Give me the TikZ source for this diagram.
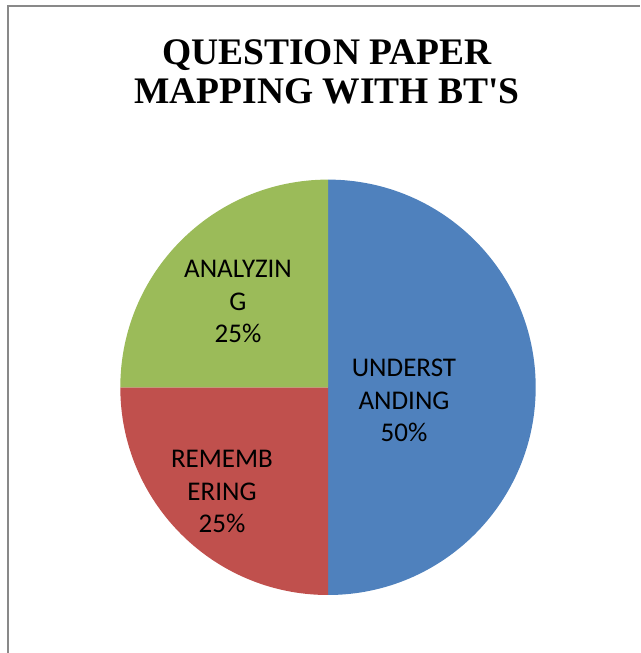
\documentclass[tikz,border=0pt]{standalone}
\usepackage{fontspec}
\setmainfont{Liberation Serif}[Ligatures=TeXOff]
\newfontfamily\slicefont{Carlito}
\usepackage{xcolor}
\usepackage{tikz}
\usetikzlibrary{positioning}
\definecolor{sliceblue}{HTML}{4F81BD}
\definecolor{slicered}{HTML}{C0504D}
\definecolor{slicegreen}{HTML}{9BBB59}
\definecolor{framegray}{HTML}{898989}

\begin{document}
\begin{tikzpicture}[x=1pt,y=1pt,
    titleline/.style={anchor=base,inner sep=0pt,font=\fontsize{37.5}{40}\selectfont\bfseries},
    slicelabel/.style={anchor=base,align=center,inner sep=0pt,font=\slicefont\fontsize{27}{32.5}\selectfont}]
      \useasboundingbox (0,0) rectangle (640,653);

      % Frame
      \draw[framegray,line width=1.2pt] (8,0) |- (640,647);

      % Title
      \node[titleline] (title1) at (327,588) {QUESTION PAPER};
      \node[titleline] (title2) at (327,549) {MAPPING WITH BT'S};

      % Slices
      \coordinate (centre) at (328,265.7);
      \fill[sliceblue] (centre) -- ++(90:207.7) arc (90:-90:207.7) -- cycle;
      \fill[slicered] (centre) -- ++(180:207.7) arc (180:270:207.7) -- cycle;
      \fill[slicegreen] (centre) -- ++(90:207.7) arc (90:180:207.7) -- cycle;

      % Labels (base = last line)
      \node[slicelabel] (understanding) at (404,211.3) {UNDERST\\ANDING\\50\%};
      \node[slicelabel] (analyzing) at (238,310) {ANALYZIN\\G\\25\%};
      \node[slicelabel] (remembering) at (222,120.3) {REMEMB\\ERING\\25\%};
    \end{tikzpicture}
\end{document}
